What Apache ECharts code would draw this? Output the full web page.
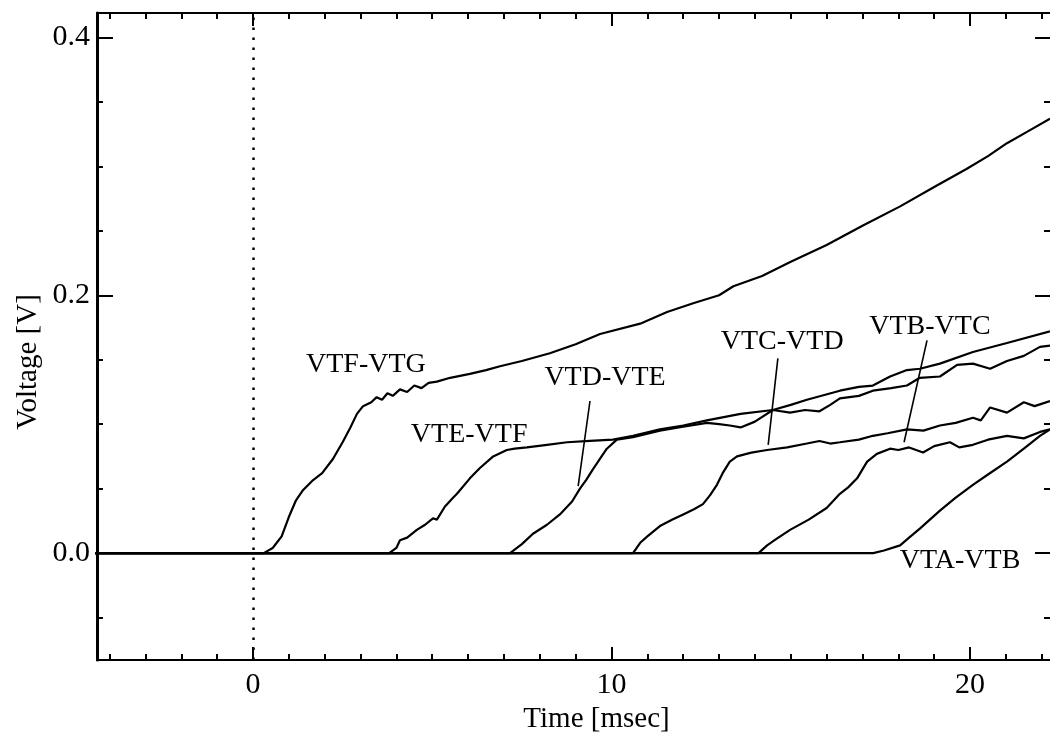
<!DOCTYPE html>
<html>
<head>
<meta charset="utf-8">
<script src="https://cdn.jsdelivr.net/npm/echarts@6/dist/echarts.min.js"></script>
<style>
  html, body { margin: 0; padding: 0; background: #fff; }
  #chart { width: 1050px; height: 739px; }
</style>
</head>
<body>
<div id="chart"></div>
<script>
// Axis extents and tick positions
const xRange = [-4.35, 22.23];
const yRange = [-0.083, 0.419];
const xMajorTicks = [0, 10, 20];
const xMinorTicks = [-4, -3, -2, -1, 0, 1, 2, 3, 4, 5, 6, 7, 8, 9, 10, 11, 12, 13, 14, 15, 16, 17, 18, 19, 20, 21, 22];
const yMajorTicks = [0, 0.2, 0.4];
const yMinorTicks = [-0.05, 0, 0.05, 0.1, 0.15, 0.2, 0.25, 0.3, 0.35, 0.4];
const triggerTime = 0;

// Voltage differences between taps [time msec, voltage V]
const vtfVtg = [[-4.4,0],[0.3,0],[0.55,0.004],[0.8,0.013],[1.0,0.028],[1.2,0.041],[1.4,0.049],[1.65,0.056],[1.93,0.062],[2.23,0.073],[2.5,0.086],[2.71,0.097],[2.9,0.108],[3.07,0.114],[3.3,0.117],[3.45,0.121],[3.6,0.119],[3.75,0.124],[3.9,0.122],[4.1,0.127],[4.3,0.125],[4.5,0.130],[4.7,0.128],[4.9,0.132],[5.13,0.133],[5.5,0.136],[6.05,0.139],[6.5,0.142],[6.89,0.145],[7.5,0.149],[8.28,0.155],[9.0,0.162],[9.68,0.170],[10.8,0.178],[11.55,0.187],[12.3,0.194],[13.0,0.200],[13.4,0.207],[14.2,0.215],[15.0,0.226],[16.0,0.239],[17.0,0.254],[18.05,0.269],[19.0,0.284],[19.9,0.298],[20.5,0.308],[21.03,0.318],[21.6,0.327],[22.23,0.337]];
const vteVtf = [[-4.4,0],[3.8,0],[4.0,0.004],[4.1,0.010],[4.3,0.012],[4.57,0.018],[4.8,0.022],[5.02,0.027],[5.13,0.026],[5.35,0.036],[5.58,0.043],[5.69,0.046],[6.05,0.058],[6.33,0.066],[6.7,0.075],[7.08,0.080],[7.3,0.081],[7.64,0.082],[8.2,0.084],[8.76,0.086],[9.4,0.087],[10.04,0.088],[10.6,0.091],[11.35,0.096],[12.0,0.099],[12.66,0.103],[13.6,0.108],[14.5,0.111],[14.98,0.109],[15.4,0.111],[15.8,0.110],[16.1,0.115],[16.37,0.120],[16.9,0.122],[17.29,0.126],[17.8,0.128],[18.24,0.130],[18.6,0.136],[19.16,0.137],[19.64,0.146],[20.08,0.147],[20.56,0.143],[21.03,0.149],[21.5,0.153],[21.95,0.160],[22.23,0.161]];
const vtdVte = [[-4.4,0],[7.17,0],[7.5,0.007],[7.81,0.015],[8.2,0.022],[8.56,0.030],[8.9,0.040],[9.12,0.050],[9.3,0.057],[9.48,0.065],[9.7,0.074],[9.87,0.081],[10.15,0.088],[10.6,0.090],[11.35,0.095],[12.0,0.098],[12.66,0.101],[13.0,0.100],[13.3,0.099],[13.6,0.0975],[14.0,0.102],[14.5,0.111],[15.0,0.115],[15.45,0.119],[16.37,0.126],[16.9,0.129],[17.29,0.130],[17.77,0.137],[18.24,0.142],[18.6,0.143],[19.16,0.147],[20.08,0.156],[21.03,0.163],[22.23,0.172]];
const vtcVtd = [[-4.4,0],[10.6,0],[10.8,0.008],[11.0,0.013],[11.35,0.021],[11.7,0.026],[12.0,0.030],[12.3,0.034],[12.55,0.038],[12.75,0.045],[12.94,0.053],[13.1,0.062],[13.3,0.071],[13.5,0.075],[13.9,0.078],[14.34,0.080],[14.9,0.082],[15.45,0.085],[15.8,0.087],[16.1,0.085],[16.37,0.086],[16.9,0.088],[17.29,0.091],[17.7,0.093],[18.24,0.096],[18.7,0.095],[19.16,0.099],[19.6,0.101],[20.08,0.105],[20.3,0.103],[20.56,0.113],[21.03,0.109],[21.5,0.117],[21.8,0.114],[22.23,0.118]];
const vtbVtc = [[-4.4,0],[14.1,0],[14.34,0.006],[14.6,0.011],[14.98,0.018],[15.5,0.026],[16.0,0.035],[16.37,0.046],[16.6,0.051],[16.85,0.058],[17.0,0.065],[17.13,0.071],[17.4,0.077],[17.77,0.081],[18.0,0.080],[18.3,0.082],[18.69,0.078],[19.0,0.083],[19.44,0.086],[19.7,0.082],[20.08,0.084],[20.5,0.088],[21.03,0.091],[21.5,0.089],[21.95,0.094],[22.23,0.096]];
const vtaVtb = [[-4.4,0],[17.3,0],[17.6,0.002],[18.05,0.006],[18.3,0.012],[18.6,0.019],[19.16,0.033],[19.6,0.043],[20.08,0.053],[20.5,0.061],[21.03,0.071],[21.5,0.081],[21.95,0.091],[22.23,0.096]];

// Curve names and where their captions sit [time, voltage]
const curveNames = ['VTF-VTG', 'VTE-VTF', 'VTD-VTE', 'VTC-VTD', 'VTB-VTC', 'VTA-VTB'];
const curveData = [vtfVtg, vteVtf, vtdVte, vtcVtd, vtbVtc, vtaVtb];
const captionPos = [[3.15, 0.146], [6.03, 0.092], [9.82, 0.136], [14.76, 0.164], [18.88, 0.176], [19.72, -0.006]];
// Leader lines from a caption to its curve
const leaders = [
  [[9.40, 0.118], [9.07, 0.052]],
  [[14.64, 0.151], [14.37, 0.084]],
  [[18.8, 0.165], [18.16, 0.086]]
];

const FONT = 'Liberation Serif';
const BLACK = '#000';

function xAxisDef(position, ticks, tickLen, withLabels, withLine) {
  return {
    type: 'value', position: position, min: xRange[0], max: xRange[1],
    splitLine: { show: false },
    axisLine: { show: withLine, onZero: false, lineStyle: { color: BLACK, width: 2 } },
    axisTick: { show: true, inside: true, length: tickLen, customValues: ticks,
                lineStyle: { color: BLACK, width: 2 } },
    axisLabel: withLabels
      ? { show: true, customValues: xMajorTicks, margin: 10, color: BLACK,
          fontFamily: FONT, fontSize: 30, formatter: v => String(Math.round(v)) }
      : { show: false }
  };
}
function yAxisDef(position, ticks, tickLen, withLabels, withLine, lineW) {
  return {
    type: 'value', position: position, min: yRange[0], max: yRange[1],
    splitLine: { show: false },
    axisLine: { show: withLine, onZero: false, lineStyle: { color: BLACK, width: lineW } },
    axisTick: { show: true, inside: true, length: tickLen, customValues: ticks,
                lineStyle: { color: BLACK, width: 2 } },
    axisLabel: withLabels
      ? { show: true, customValues: yMajorTicks, margin: 7, color: BLACK,
          fontFamily: FONT, fontSize: 30, formatter: v => v.toFixed(1) }
      : { show: false }
  };
}

const xAxes = [
  xAxisDef('bottom', xMajorTicks, 13, true, true),
  xAxisDef('bottom', xMinorTicks, 6, false, false),
  xAxisDef('top', xMajorTicks, 13, false, true),
  xAxisDef('top', xMinorTicks, 6, false, false)
];
xAxes[0].name = 'Time [msec]';
xAxes[0].nameLocation = 'middle';
xAxes[0].nameGap = 44;
xAxes[0].nameTextStyle = { color: BLACK, fontFamily: FONT, fontSize: 29, padding: [0, 0, 0, 46] };

const yAxes = [
  yAxisDef('left', yMajorTicks, 16, true, true, 3),
  yAxisDef('left', yMinorTicks, 6, false, false, 3),
  yAxisDef('right', yMajorTicks, 15, false, false, 2),
  yAxisDef('right', yMinorTicks, 6, false, false, 2)
];

const series = curveData.map((d, i) => ({
  type: 'line', name: curveNames[i], data: d,
  xAxisIndex: 0, yAxisIndex: 0,
  showSymbol: false, symbol: 'none', clip: true, z: 3,
  lineStyle: { color: BLACK, width: 2.2 }
}));
series[0].markLine = {
  silent: true, symbol: 'none', label: { show: false },
  lineStyle: { color: BLACK, width: 2.5, type: [2.5, 7.5] },
  data: [{ xAxis: triggerTime }]
};
leaders.forEach(seg => series.push({
  type: 'line', data: seg, xAxisIndex: 0, yAxisIndex: 0,
  showSymbol: false, symbol: 'none', z: 3,
  lineStyle: { color: BLACK, width: 1.6 }
}));
series.push({
  type: 'scatter', xAxisIndex: 0, yAxisIndex: 0, symbolSize: 0, z: 5,
  itemStyle: { color: BLACK, opacity: 1 },
  data: captionPos.map((p, i) => ({ value: p, name: curveNames[i] })),
  label: { show: true, position: 'inside', formatter: p => p.name, opacity: 1,
           color: BLACK, textBorderWidth: 0, textBorderColor: 'transparent',
           fontFamily: FONT, fontSize: 28 }
});

const chart = echarts.init(document.getElementById('chart'), null, { renderer: 'canvas' });
chart.setOption({
  backgroundColor: '#fff',
  animation: false,
  grid: { left: 97, top: 13, width: 953, height: 659 },
  xAxis: xAxes,
  yAxis: yAxes,
  series: series,
  graphic: [{
    type: 'text', x: 28, y: 362, rotation: Math.PI / 2,
    style: { text: 'Voltage [V]', fill: BLACK, font: '29px "Liberation Serif"',
             align: 'center', verticalAlign: 'middle' }
  }]
});
</script>
</body>
</html>
